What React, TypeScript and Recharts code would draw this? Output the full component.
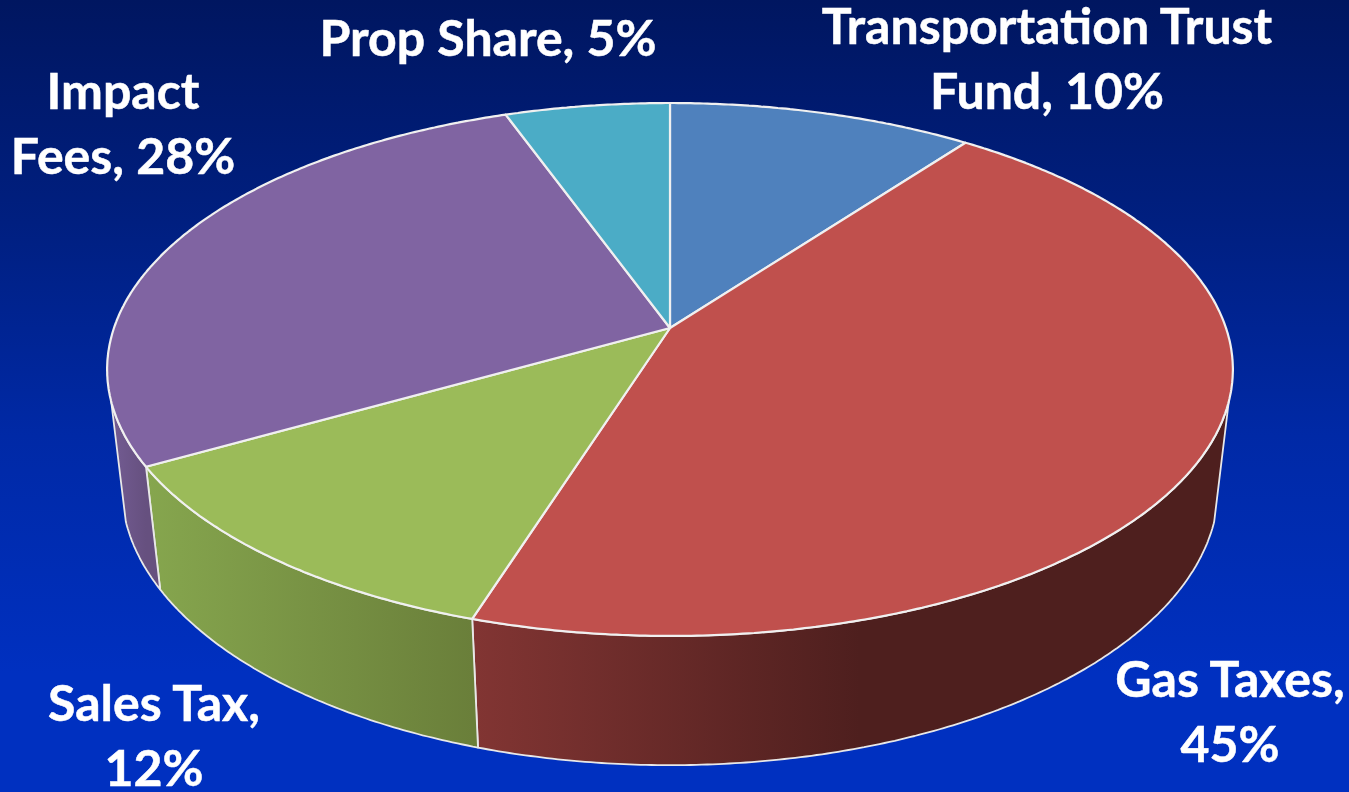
import { Pie, PieChart } from "recharts";

const categories = ["Transportation Trust Fund", "Gas Taxes", "Sales Tax", "Impact Fees", "Prop Share"];
// printed on the labels
const printedShares = [10, 45, 12, 28, 5];
const measuredShares = [10.2, 44.7, 11.9, 27.7, 5.5];

const topColors = ["#4F81BD", "#C0504D", "#9BBB59", "#8064A2", "#4BACC6"];
const wallFrom = ["#3A5F8C", "#823533", "#86A64E", "#735C93", "#37808F"];
const wallTo = ["#3A5F8C", "#4E1F1E", "#6A7F3A", "#66507F", "#37808F"];

const wordsOnFirstLine = [2, 2, 2, 1, 3];
const labelCenters = [
  { x: 1047, y: 44 },
  { x: 1230, y: 697 },
  { x: 154, y: 721 },
  { x: 123, y: 109 },
  { x: 488, y: 56 },
];

const CX = 670;
const CY = 328;
const RX = 556;
const RY = 260;
const TILT = 0.1557;
const VANISH_Y = 5000;
const WALL_T = 0.025;
const FRONT_START = 105.7;
const FRONT_END = 254.3;
const GAS_DARK_X = 860;

const data = categories.map((name, i) => ({
  name,
  value: measuredShares[i],
  printed: printedShares[i],
}));

// angle is clockwise from 12 o'clock, perspective projection of the unit disc
function rim(angle: number) {
  const rad = (angle * Math.PI) / 180;
  const u = Math.sin(rad);
  const d = -Math.cos(rad);
  const w = 1 - TILT * d;
  return { x: CX + (RX * u) / w, y: CY + (RY * d) / w, w };
}

function base(angle: number) {
  const p = rim(angle);
  const t = WALL_T / p.w;
  return { x: p.x + (CX - p.x) * t, y: p.y + (VANISH_Y - p.y) * t };
}

function sample(from: number, to: number, fn: (a: number) => { x: number; y: number }) {
  const steps = Math.max(2, Math.ceil(Math.abs(to - from) * 2));
  const pts: string[] = [];
  for (let i = 0; i <= steps; i++) {
    const p = fn(from + ((to - from) * i) / steps);
    pts.push(`${p.x.toFixed(1)} ${p.y.toFixed(1)}`);
  }
  return pts;
}

function Slice3D(props: any) {
  const { startAngle, endAngle, index } = props;
  const from = 90 - startAngle;
  const to = 90 - endAngle;
  const top = `M${CX} ${CY} L${sample(from, to, rim).join(" L")} Z`;
  const wallA = Math.max(from, FRONT_START);
  const wallB = Math.min(to, FRONT_END);
  const hasWall = wallB > wallA;
  const gradId = `wall-${index}`;
  // wall shading runs left to right across the slice
  const x0 = rim(wallB).x;
  const x1 = index === 1 ? GAS_DARK_X : rim(wallA).x;
  return (
    <g>
      {hasWall && (
        <>
          <defs>
            <linearGradient id={gradId} gradientUnits="userSpaceOnUse" x1={x0} y1={0} x2={x1} y2={0}>
              <stop offset="0" stopColor={wallFrom[index]} />
              <stop offset="1" stopColor={wallTo[index]} />
            </linearGradient>
          </defs>
          <path
            d={`M${sample(wallA, wallB, rim).join(" L")} L${sample(wallB, wallA, base).join(" L")} Z`}
            fill={`url(#${gradId})`}
            stroke="#E8E8E8"
            strokeWidth={1.8}
            strokeLinejoin="round"
          />
        </>
      )}
      <path d={top} fill={topColors[index]} stroke="#F0F0F0" strokeWidth={2.2} strokeLinejoin="round" />
    </g>
  );
}

function renderLabel(props: any) {
  const { index } = props;
  const words = `${categories[index]}, ${printedShares[index]}%`.split(" ");
  const n = wordsOnFirstLine[index];
  const lines = [words.slice(0, n).join(" "), words.slice(n).join(" ")].filter(Boolean);
  const pos = labelCenters[index];
  return (
    <text
      key={index}
      textAnchor="middle"
      fontFamily="Lato, sans-serif"
      fontWeight={700}
      fontSize={50}
      fill="#FFFFFF"
      stroke="#FFFFFF"
      strokeWidth={0.5}
    >
      {lines.map((line, i) => (
        <tspan key={i} x={pos.x} y={pos.y + i * 65}>
          {line}
        </tspan>
      ))}
    </text>
  );
}

export default function App() {
  return (
    <div
      style={{
        position: "absolute",
        left: 0,
        top: 0,
        width: 1349,
        height: 792,
        overflow: "hidden",
        background: "linear-gradient(180deg, #001660 0%, #001F80 28%, #0029A6 55%, #0030C0 85%, #0030C0 100%)",
      }}
    >
      <PieChart width={1349} height={792} margin={{ top: 0, right: 0, bottom: 0, left: 0 }}>
        <Pie
          data={data}
          dataKey="value"
          nameKey="name"
          cx={CX}
          cy={CY}
          outerRadius={RX}
          startAngle={90}
          endAngle={-270}
          shape={Slice3D}
          label={renderLabel}
          labelLine={false}
          isAnimationActive={false}
        />
      </PieChart>
    </div>
  );
}
